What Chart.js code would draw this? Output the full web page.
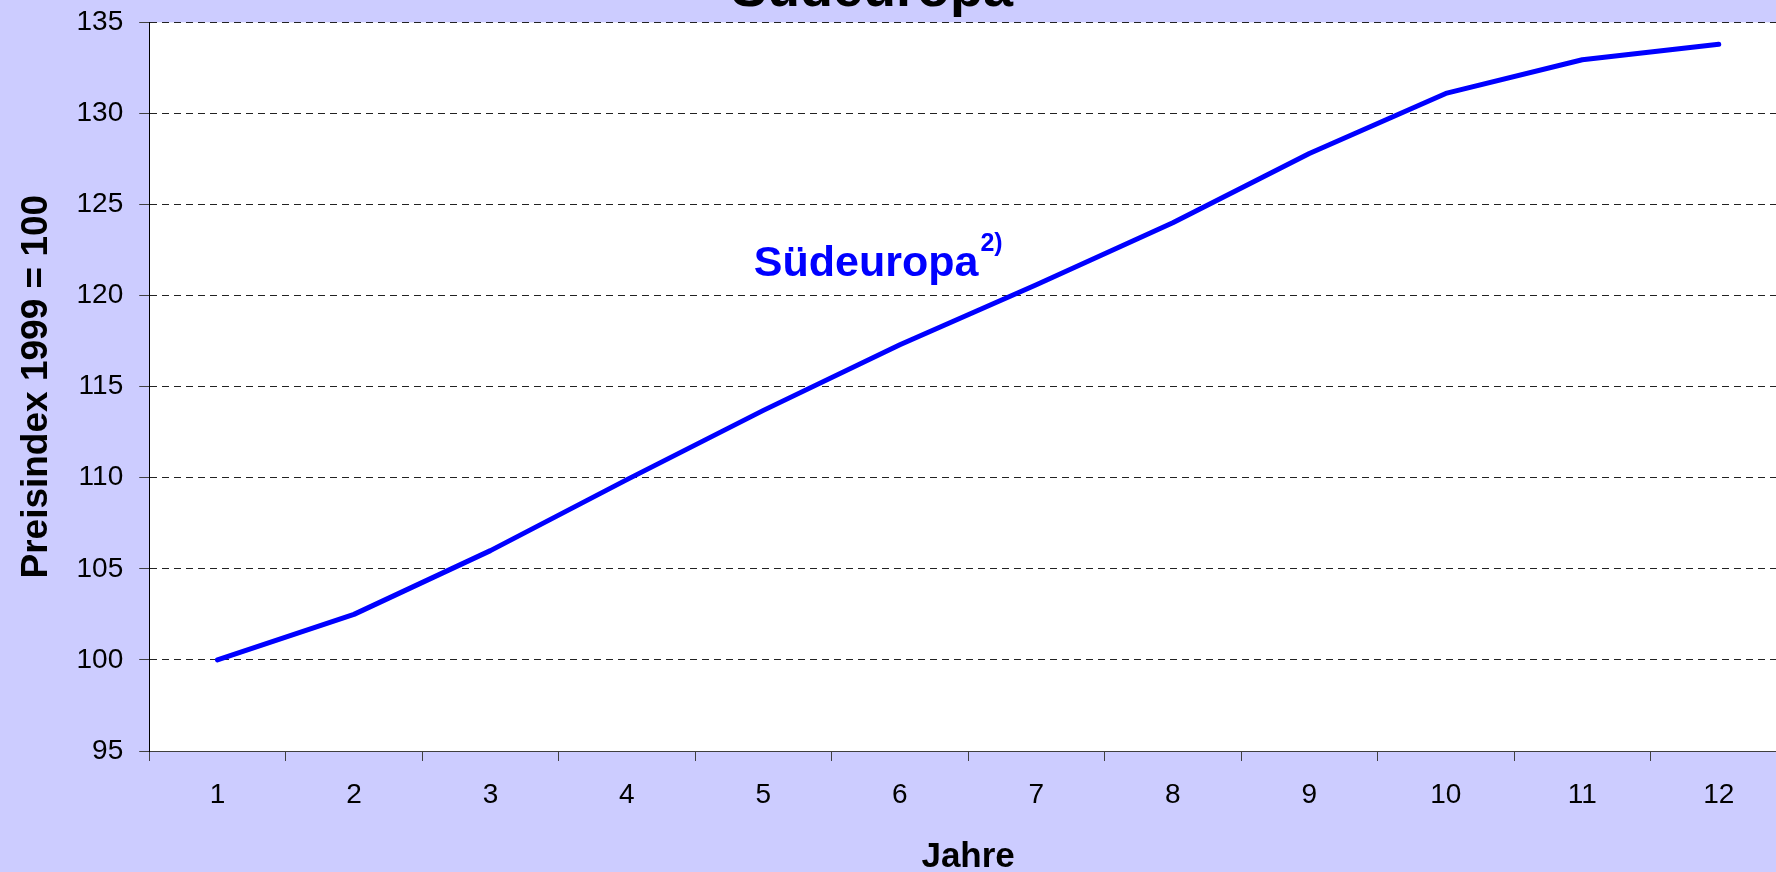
<!DOCTYPE html>
<html>
<head>
<meta charset="utf-8">
<script src="https://cdn.jsdelivr.net/npm/chart.js@4/dist/chart.umd.min.js"></script>
<style>
  html, body { margin: 0; padding: 0; overflow: hidden; background: #ccccff; }
  #frame { position: absolute; left: -43px; top: -40px; width: 1839px; height: 915px; }
</style>
</head>
<body>
<div id="frame"><canvas id="chart"></canvas></div>
<script>
const years = ['1', '2', '3', '4', '5', '6', '7', '8', '9', '10', '11', '12'];
const suedeuropa = [100.0, 102.5, 106.0, 109.9, 113.7, 117.3, 120.6, 124.0, 127.8, 131.1, 132.95, 133.8];

const chartTitle = 'Südeuropa';
const xTitle = 'Jahre';
const yTitle = 'Preisindex 1999 = 100';

// in-plot series label, anchored in data units (category index, index value)
const seriesLabel = 'Südeuropa';
const seriesNote = '2)';
const seriesLabelAt = { x: 3.93, y: 121.1 };

const font = '"Liberation Sans", Arial, sans-serif';

/* white plot area on the lilac page */
const plotBackground = {
  id: 'plotBackground',
  beforeDraw(chart) {
    let { ctx, chartArea: a } = chart;
    ctx.save();
    ctx.fillStyle = '#ffffff';
    ctx.fillRect(a.left, a.top, a.right - a.left, a.bottom - a.top);
    ctx.restore();
  }
};

/* the heading sits centred on the page, not on the plot, and runs off the top */
const heading = {
  id: 'heading',
  afterDraw(chart) {
    let { ctx } = chart;
    ctx.save();
    ctx.fillStyle = '#000000';
    ctx.textAlign = 'center';
    ctx.textBaseline = 'middle';
    ctx.font = 'bold 54px ' + font;
    ctx.fillText(chartTitle, 915, 31);
    ctx.restore();
  }
};

/* series name written next to the line, with its footnote mark */
const seriesName = {
  id: 'seriesName',
  afterDatasetsDraw(chart) {
    let { ctx, scales } = chart;
    let x = scales.x.getPixelForValue(seriesLabelAt.x);
    let y = scales.y.getPixelForValue(seriesLabelAt.y);
    ctx.save();
    ctx.fillStyle = '#0000ff';
    ctx.textBaseline = 'alphabetic';
    ctx.textAlign = 'left';
    ctx.font = 'bold 43px ' + font;
    ctx.fillText(seriesLabel, x, y);
    let w = ctx.measureText(seriesLabel).width;
    ctx.font = 'bold 25px ' + font;
    ctx.fillText(seriesNote, x + w + 2, y - 25);
    ctx.restore();
  }
};

let options = {
  responsive: true,
  maintainAspectRatio: false,
  animation: false,
  layout: { padding: { left: 61.5, right: 0, top: 62.4, bottom: 0 } },
  elements: { point: { pointStyle: false } },
  plugins: {
    legend: { display: false },
    tooltip: { enabled: false },
    title: { display: false },
  },
  scales: {
    x: {
      offset: true,
      grid: {
        offset: true,
        drawOnChartArea: false,
        drawTicks: true,
        tickLength: 10,
        color: '#404040',
      },
      border: { color: '#404040', width: 1 },
      ticks: {
        color: '#000000',
        padding: 20,
        maxRotation: 0,
        font: { family: font, size: 28, lineHeight: 1 },
      },
      title: {
        display: true,
        text: xTitle,
        color: '#000000',
        font: { family: font, size: 35, weight: 'bold', lineHeight: 1 },
        padding: { top: 11, bottom: 0 },
      },
    },
    y: {
      min: 95,
      max: 135,
      grid: {
        color: '#222222',
        lineWidth: 1,
        tickLength: 10,
        tickBorderDash: [],
        tickColor: '#404040',
      },
      // in v4 the dash of the grid lines lives under border
      border: { color: '#000000', width: 1, dash: [7, 5] },
      ticks: {
        stepSize: 5,
        color: '#000000',
        padding: 16,
        font: { family: font, size: 28 },
      },
      title: {
        display: true,
        text: yTitle,
        color: '#000000',
        font: { family: font, size: 37, weight: 'bold', lineHeight: 1 },
        padding: { top: 0, bottom: 5 },
      },
    },
  },
};

let canvas = document.getElementById('chart');
let chart = new Chart(canvas, {
  type: 'line',
  data: {
    labels: years,
    datasets: [{
      label: seriesLabel,
      data: suedeuropa,
      borderColor: '#0000ff',
      backgroundColor: '#0000ff',
      borderWidth: 5,
      borderCapStyle: 'round',
      borderJoinStyle: 'round',
      tension: 0,
      fill: false,
    }],
  },
  options,
  plugins: [plotBackground, heading, seriesName],
});
</script>
</body>
</html>
